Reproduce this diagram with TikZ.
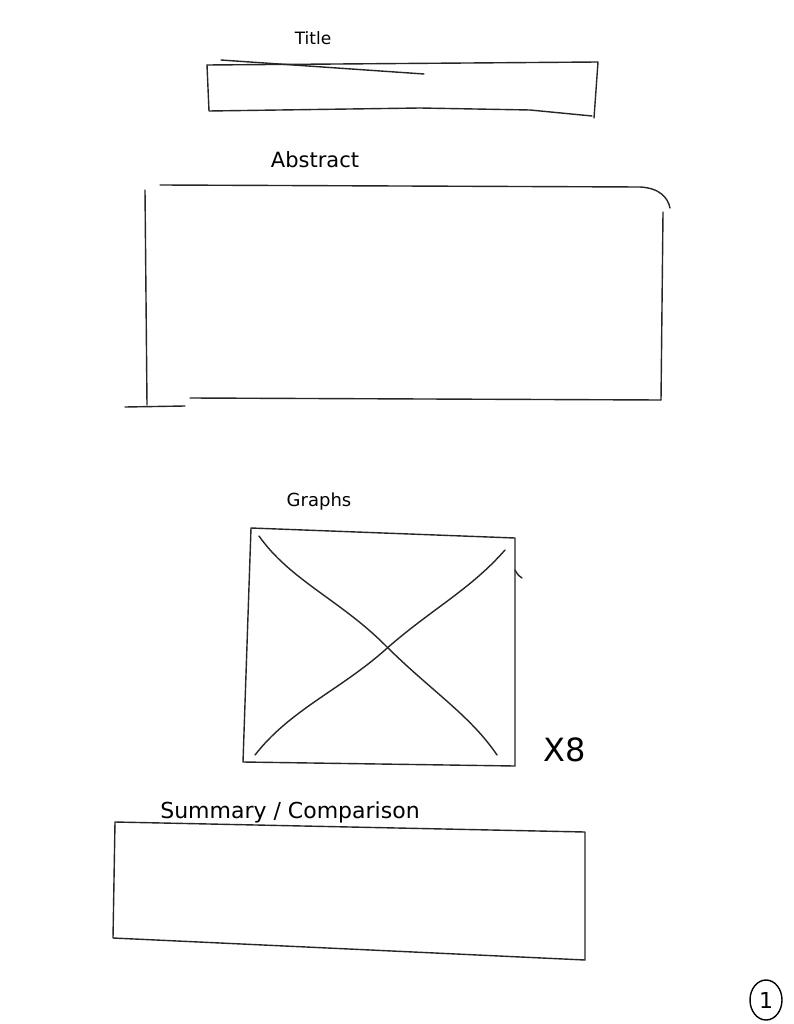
\documentclass[tikz,border=0pt]{standalone}
\usepackage{fontspec}
\setmainfont{DejaVu Sans}
\usetikzlibrary{shapes.geometric}
\begin{document}
\begin{tikzpicture}[x=1pt,y=-1pt,
  pen/.style={draw=black!85,line width=1.4pt,line cap=round,line join=round},
  lbl/.style={font=\fontsize{18}{20}\selectfont,inner sep=0pt}]
\useasboundingbox[fill=white] (0,0) rectangle (793,1024);
% Title
\node[lbl,font=\fontsize{17}{19}\selectfont] (title) at (313,38) {Title};
\coordinate (t1) at (207,65); \coordinate (t2) at (598,62);
\coordinate (t3) at (594,118); \coordinate (t4) at (209,111);
\draw[pen] (t1) -- (t2) -- (t3);
\draw[pen] (t1) -- (t4) -- (420,108) -- (530,110) -- (592,116);
\draw[pen] (221,60) -- (424,74);
% Abstract
\node[lbl,font=\fontsize{21}{23}\selectfont] (abs) at (315,160) {Abstract};
\draw[pen] (160,185) -- (640,187) .. controls (660,188) and (668,198) .. (670,208);
\draw[pen] (145,190) -- (147,405);
\draw[pen] (663,212) -- (661,400);
\draw[pen] (190,398) -- (661,400);
\draw[pen] (125,407) -- (185,406);
% Graphs
\node[lbl] (gr) at (319,502) {Graphs};
\coordinate (g1) at (251,528); \coordinate (g2) at (515,538);
\coordinate (g3) at (515,766); \coordinate (g4) at (243,762);
\draw[pen] (g1) -- (g2) -- (g3) -- (g4) -- cycle;
\draw[pen] (515,570) .. controls (518,575) .. (522,578);
\draw[pen] (259,536) .. controls (290,580) and (340,600) .. (385,645) .. controls (430,690) and (470,715) .. (497,755);
\draw[pen] (255,755) .. controls (290,710) and (340,690) .. (385,650) .. controls (430,610) and (470,590) .. (505,550);
\node[lbl,font=\fontsize{32}{34}\selectfont] (x8) at (565,750) {X8};
% Summary
\node[lbl,font=\fontsize{22}{24}\selectfont] (sum) at (290,812) {Summary / Comparison};
\coordinate (s1) at (115,822); \coordinate (s2) at (585,832);
\coordinate (s3) at (585,960); \coordinate (s4) at (113,938);
\draw[pen] (s1) -- (s2) -- (s3) -- (s4) -- cycle;
% page number
\node[draw=black,line width=1.4pt,ellipse,minimum width=32pt,minimum height=40pt,inner sep=0pt,font=\fontsize{22}{24}\selectfont] (pg) at (766,1000) {1};
\end{tikzpicture}
\end{document}
